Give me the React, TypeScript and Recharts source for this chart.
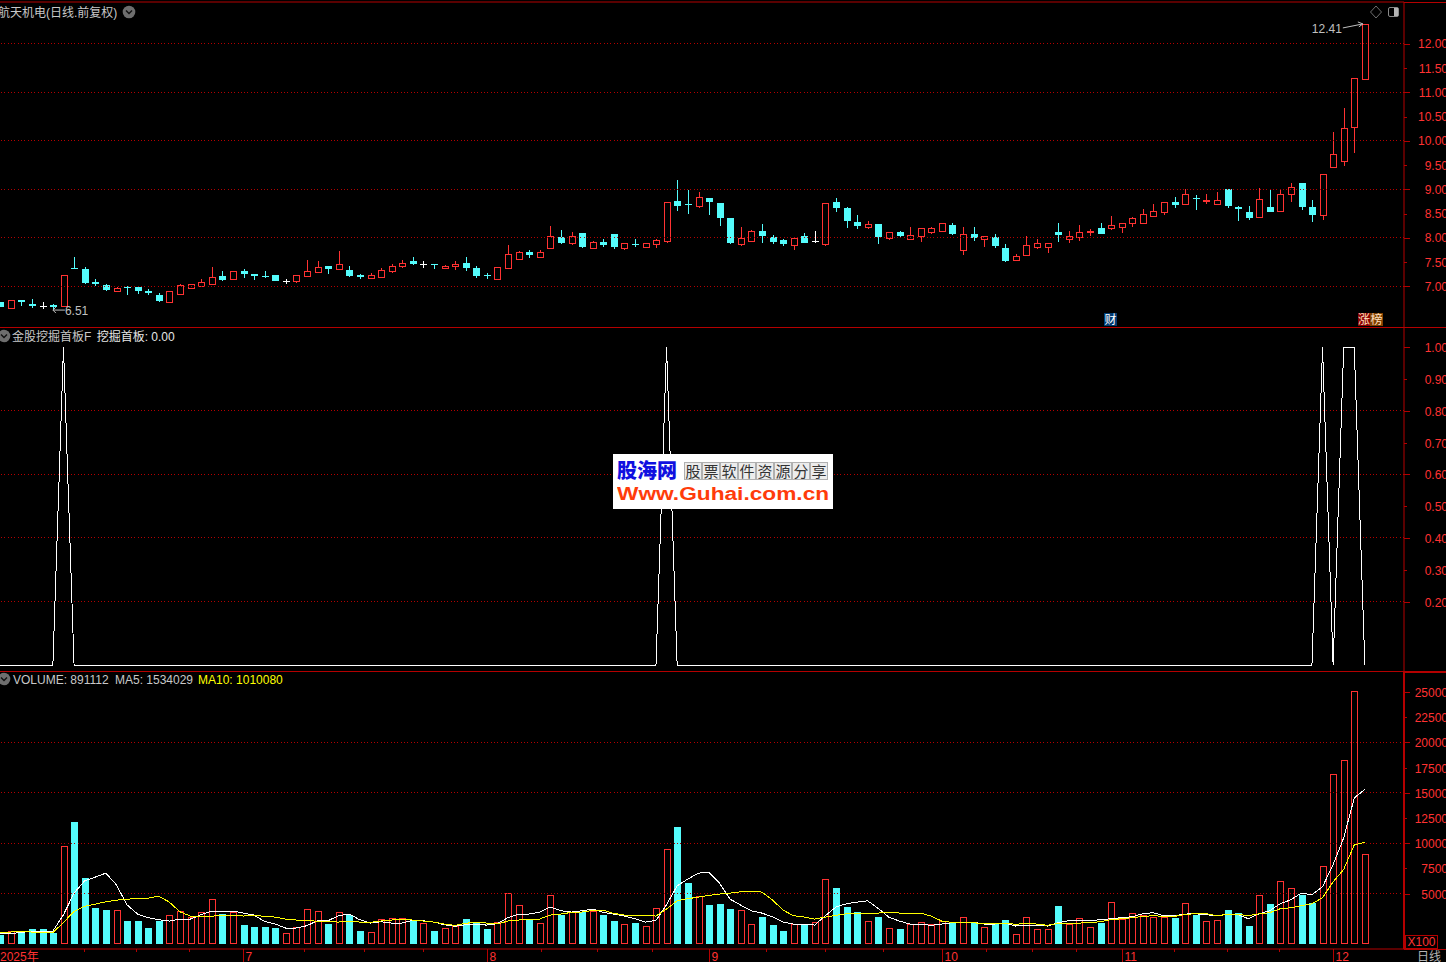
import React from "react";
import {
  Bar,
  ComposedChart,
  Line,
  ReferenceDot,
  ReferenceLine,
  XAxis,
  YAxis,
} from "recharts";

const opens = [
  6.68, 6.56, 6.72, 6.64, 6.59, 6.61, 6.6, 7.38, 7.36, 7.09,
  7.03, 6.91, 6.99, 6.99, 6.9, 6.82, 6.68, 6.84, 6.97, 7.01,
  7.05, 7.21, 7.16, 7.32, 7.25, 7.21, 7.23, 7.1, 7.1, 7.22,
  7.3, 7.42, 7.36, 7.34, 7.23, 7.18, 7.2, 7.32, 7.41, 7.52,
  7.45, 7.46, 7.38, 7.41, 7.48, 7.38, 7.23, 7.16, 7.38, 7.57,
  7.71, 7.61, 7.8, 8.02, 7.9, 8.1, 7.8, 7.91, 8.08, 7.8,
  7.87, 7.82, 7.88, 7.94, 8.76, 8.7, 8.66, 8.82, 8.72, 8.41,
  7.88, 7.94, 8.14, 8.02, 7.96, 7.86, 8.04, 7.93, 7.88, 8.74,
  8.62, 8.33, 8.22, 8.29, 8.0, 8.12, 7.98, 8.04, 8.13, 8.15,
  8.26, 7.74, 8.08, 7.97, 8.02, 7.79, 7.55, 7.65, 7.82, 7.82,
  8.12, 7.97, 8.02, 8.11, 8.2, 8.21, 8.23, 8.3, 8.31, 8.44,
  8.54, 8.74, 8.69, 8.82, 8.75, 8.69, 9.01, 8.63, 8.53, 8.42,
  8.63, 8.56, 8.9, 9.13, 8.63, 8.48, 9.45, 9.58, 10.29, 11.28,
];
const closes = [
  6.57, 6.71, 6.68, 6.59, 6.59, 6.58, 7.23, 7.36, 7.07, 7.05,
  6.92, 6.96, 6.97, 6.9, 6.86, 6.7, 6.9, 7.02, 7.04, 7.08,
  7.19, 7.13, 7.31, 7.25, 7.21, 7.19, 7.11, 7.1, 7.23, 7.31,
  7.39, 7.36, 7.45, 7.21, 7.19, 7.23, 7.33, 7.41, 7.49, 7.46,
  7.45, 7.43, 7.42, 7.47, 7.38, 7.21, 7.21, 7.39, 7.66, 7.7,
  7.65, 7.7, 8.03, 7.89, 8.03, 7.81, 7.91, 7.85, 7.81, 7.89,
  7.85, 7.89, 7.95, 8.73, 8.66, 8.68, 8.84, 8.74, 8.41, 7.89,
  8.0, 8.15, 8.04, 7.91, 7.87, 8.0, 7.89, 7.93, 8.71, 8.62,
  8.35, 8.24, 8.28, 8.02, 8.11, 8.04, 8.05, 8.2, 8.2, 8.3,
  8.08, 8.07, 8.0, 8.03, 7.83, 7.52, 7.62, 7.85, 7.89, 7.89,
  8.06, 8.03, 8.11, 8.15, 8.08, 8.26, 8.3, 8.4, 8.5, 8.55,
  8.73, 8.68, 8.9, 8.79, 8.78, 8.77, 8.66, 8.59, 8.41, 8.79,
  8.53, 8.9, 9.04, 8.63, 8.48, 9.31, 9.72, 10.26, 11.29, 12.41,
];
const highs = [
  6.68, 6.71, 6.72, 6.74, 6.68, 6.64, 7.23, 7.6, 7.4, 7.15,
  7.05, 6.99, 7.01, 7.01, 6.95, 6.86, 6.9, 7.05, 7.04, 7.15,
  7.4, 7.32, 7.31, 7.36, 7.25, 7.32, 7.23, 7.16, 7.23, 7.54,
  7.52, 7.42, 7.73, 7.42, 7.26, 7.27, 7.38, 7.46, 7.54, 7.6,
  7.52, 7.46, 7.44, 7.52, 7.6, 7.42, 7.27, 7.39, 7.85, 7.73,
  7.75, 7.75, 8.24, 8.16, 8.12, 8.1, 7.93, 7.98, 8.08, 7.89,
  7.98, 7.89, 7.98, 8.73, 9.19, 8.99, 8.95, 8.82, 8.72, 8.41,
  8.22, 8.16, 8.29, 8.06, 7.98, 8.0, 8.1, 8.14, 8.71, 8.82,
  8.64, 8.47, 8.35, 8.29, 8.11, 8.14, 8.22, 8.2, 8.22, 8.3,
  8.31, 8.22, 8.22, 8.03, 8.08, 7.87, 7.67, 8.04, 7.98, 7.89,
  8.3, 8.14, 8.26, 8.18, 8.3, 8.45, 8.3, 8.43, 8.59, 8.7,
  8.73, 8.84, 9.01, 8.88, 8.9, 8.94, 9.01, 8.66, 8.66, 9.03,
  8.98, 9.01, 9.13, 9.13, 8.78, 9.31, 10.18, 10.67, 11.29, 12.41,
];
const lows = [
  6.57, 6.56, 6.59, 6.55, 6.53, 6.51, 6.6, 7.36, 7.05, 7.01,
  6.9, 6.91, 6.82, 6.84, 6.82, 6.68, 6.68, 6.82, 6.95, 6.99,
  7.05, 7.11, 7.16, 7.17, 7.13, 7.17, 7.11, 7.05, 7.07, 7.22,
  7.27, 7.25, 7.36, 7.19, 7.15, 7.18, 7.2, 7.28, 7.38, 7.44,
  7.38, 7.36, 7.36, 7.34, 7.32, 7.17, 7.15, 7.16, 7.36, 7.57,
  7.58, 7.61, 7.8, 7.87, 7.86, 7.79, 7.77, 7.81, 7.77, 7.75,
  7.81, 7.79, 7.79, 7.89, 8.55, 8.49, 8.62, 8.47, 8.24, 7.87,
  7.83, 7.94, 7.89, 7.87, 7.83, 7.75, 7.89, 7.89, 7.83, 8.53,
  8.2, 8.18, 8.18, 7.87, 7.96, 8.0, 7.98, 7.91, 8.08, 8.15,
  8.06, 7.65, 7.93, 7.81, 7.79, 7.5, 7.55, 7.65, 7.77, 7.69,
  7.91, 7.89, 7.93, 8.04, 8.08, 8.16, 8.1, 8.22, 8.3, 8.44,
  8.47, 8.61, 8.69, 8.57, 8.7, 8.69, 8.61, 8.35, 8.37, 8.42,
  8.53, 8.56, 8.74, 8.57, 8.33, 8.37, 9.45, 9.48, 9.75, 11.28,
];
const volumes = [
  924, 1287, 1089, 1518, 1518, 1089, 9702, 12111, 6567, 3597,
  3399, 3366, 2310, 2310, 1617, 2310, 2871, 3267, 2673, 3168,
  4455, 3003, 3168, 1914, 1716, 1716, 1617, 1089, 1683, 3465,
  3267, 2013, 3168, 2871, 1320, 1188, 2475, 2574, 2574, 2310,
  2079, 1320, 1584, 1782, 2508, 2112, 1518, 2178, 5049, 3861,
  2475, 2079, 4851, 2904, 3168, 3168, 3300, 2904, 2310, 1980,
  2112, 1782, 3564, 9405, 11616, 6072, 4752, 3894, 3993, 3498,
  3366, 1980, 2706, 1914, 1320, 1980, 2013, 2178, 6435, 5577,
  3696, 3201, 2277, 2706, 1584, 1518, 2013, 2178, 1980, 2277,
  2112, 2673, 2112, 1683, 2013, 2409, 990, 2673, 1485, 1518,
  3729, 2013, 2607, 1716, 2112, 4191, 2508, 3102, 2904, 2706,
  2706, 2541, 4092, 2904, 2310, 2409, 3333, 3036, 1749, 4884,
  3927, 6270, 5577, 4818, 4026, 7755, 16863, 18249, 25080, 8911,
];
const ma5 = [
  1023, 1023, 1155, 1254, 1287, 1287, 2904, 5049, 6270, 6633,
  7029, 5874, 3894, 2970, 2607, 2409, 2277, 2475, 2475, 2904,
  3267, 3267, 3267, 3069, 2871, 2244, 1980, 1584, 1584, 1815,
  2310, 2310, 2805, 2970, 2409, 2079, 2211, 2079, 2079, 2343,
  2310, 2178, 1914, 1749, 1914, 1914, 1881, 2013, 2607, 2970,
  2970, 3168, 3663, 3300, 3168, 3300, 3465, 3135, 2970, 2772,
  2508, 2178, 2343, 3894, 5775, 6435, 7029, 7128, 6039, 4455,
  3861, 3300, 3069, 2706, 2178, 1980, 1947, 1881, 2805, 3663,
  3993, 4158, 4290, 3531, 2673, 2277, 1980, 1980, 1848, 1980,
  2112, 2178, 2178, 1980, 1980, 2079, 1782, 1881, 1881, 1782,
  2112, 2310, 2310, 2310, 2409, 2508, 2607, 2706, 3003, 3102,
  2805, 2805, 2970, 3003, 2904, 2805, 2937, 2904, 2508, 3003,
  3300, 3993, 4389, 5049, 4884, 5676, 7887, 10527, 14487, 15340,
];
const ma10 = [
  1188, 1188, 1287, 1188, 1122, 1122, 2145, 3234, 3729, 3960,
  4191, 4356, 4422, 4554, 4554, 4752, 4158, 3201, 2772, 2739,
  2772, 2805, 2871, 2772, 2871, 2739, 2673, 2475, 2376, 2376,
  2244, 2211, 2178, 2277, 2178, 2145, 2277, 2376, 2475, 2376,
  2277, 2178, 1980, 1848, 2046, 2178, 2079, 1980, 2277, 2376,
  2475, 2475, 2871, 2970, 3135, 3168, 3333, 3366, 3036, 2871,
  2871, 2871, 2772, 3465, 4290, 4488, 4653, 4818, 4950, 5049,
  5181, 5247, 5148, 4389, 3366, 2805, 2673, 2475, 2673, 2838,
  3003, 3069, 3069, 3069, 3168, 3069, 3069, 3069, 2772, 2277,
  2145, 2112, 2112, 2013, 2013, 2079, 1947, 2079, 1980, 1848,
  2046, 2079, 2079, 2112, 2211, 2409, 2508, 2607, 2739, 2805,
  2739, 2739, 2937, 3003, 3003, 2805, 2937, 2937, 2805, 3003,
  3102, 3498, 3597, 3795, 3993, 4587, 6171, 7392, 9834, 10100,
];
// 挖掘首板 signal days, 0 everywhere else
const signalDays = [6, 63, 125, 127, 128];
// white doji candles whose volume bar is still drawn red
const redDojiDays = [27, 40, 77];

const priceTicks = [12, 11.5, 11, 10.5, 10, 9.5, 9, 8.5, 8, 7.5, 7];
const priceGrid = [12, 11, 10, 9, 8, 7];
const signalTicks = [1, 0.9, 0.8, 0.7, 0.6, 0.5, 0.4, 0.3, 0.2];
const signalGrid = [0.8, 0.6, 0.4, 0.2];
const volumeTicks = [25000, 22500, 20000, 17500, 15000, 12500, 10000, 7500, 5000];
const volumeGrid = [20000, 15000, 10000, 5000];

const monthLabels: Record<number, string> = {
  0: "2025年",
  23: "7",
  46: "8",
  67: "9",
  89: "10",
  106: "11",
  126: "12",
};
const dateTicks = [
  0, 7.9, 12.9, 17.9, 23, 28.7, 34.4, 40, 46, 51.1, 56.4, 61.6, 67, 72.4, 78,
  83.5, 89, 93.2, 97.5, 101.7, 106, 111, 116, 120.9, 126,
];
// little marks on the top border, one every 3.3 days or so
const topTicks = Array.from({ length: 39 }, (_, k) => 1.7 + k * 3.308);

const RED = "#ff3232";
const CYAN = "#54fcfc";
const LINE_RED = "#b40000";
const FONT = '"Liberation Sans", "Noto Sans CJK SC", sans-serif';
const X_DOMAIN: [number, number] = [0, 132.7];

const days = opens.map((open, i) => ({
  idx: i,
  open,
  close: closes[i],
  high: highs[i],
  low: lows[i],
  range: [lows[i], highs[i]],
  volume: volumes[i],
  ma5: ma5[i],
  ma10: ma10[i],
  signal: signalDays.includes(i) ? 1 : 0,
}));

const Candle = (props: any) => {
  const { x, y, width, height, payload } = props;
  const { open, close, high, low } = payload;
  const k = height / (high - low || 1);
  const cx = Math.round(x + width / 2) + 0.5;
  const left = cx - 3.5;
  const bodyTop = Math.round(y + (high - Math.max(open, close)) * k);
  const bodyBottom = Math.round(y + (high - Math.min(open, close)) * k);
  const wick = { x1: cx, x2: cx, y1: y, y2: y + height };
  if (open === close) {
    return (
      <g shapeRendering="crispEdges" stroke="#fff">
        <line {...wick} />
        <line x1={left} x2={left + 7} y1={bodyTop + 0.5} y2={bodyTop + 0.5} />
      </g>
    );
  }
  if (close > open) {
    return (
      <g shapeRendering="crispEdges" stroke={RED}>
        <line {...wick} />
        <rect x={left} y={bodyTop + 0.5} width={6} height={bodyBottom - bodyTop} fill="#000" />
      </g>
    );
  }
  return (
    <g shapeRendering="crispEdges">
      <line {...wick} stroke={CYAN} />
      <rect x={left - 0.5} y={bodyTop} width={7} height={Math.max(bodyBottom - bodyTop, 1)} fill={CYAN} />
    </g>
  );
};

const VolumeBar = (props: any) => {
  const { x, y, width, height, payload } = props;
  const left = Math.round(x + width / 2) - 3;
  const top = Math.round(y);
  const isRed =
    payload.close > payload.open ||
    (payload.close === payload.open && redDojiDays.includes(payload.idx));
  if (isRed) {
    return (
      <rect
        x={left + 0.5}
        y={top + 0.5}
        width={6}
        height={height - 1}
        fill="#000"
        stroke={RED}
        shapeRendering="crispEdges"
      />
    );
  }
  return <rect x={left} y={top} width={7} height={height} fill={CYAN} shapeRendering="crispEdges" />;
};

// right axis tick: every other mark is long, labels run off the right edge like the original
const ValueTick = (props: any) => {
  const { x, y, index, payload, digits, dy = 5 } = props;
  const py = Math.round(y) + 0.5;
  return (
    <g>
      <line
        x1={x}
        x2={x + (index % 2 === 0 ? 6 : 3)}
        y1={py}
        y2={py}
        stroke={LINE_RED}
        shapeRendering="crispEdges"
      />
      <text x={1448} y={y + dy} textAnchor="end" fontSize={12} fontFamily={FONT} fill={RED}>
        {digits ? payload.value.toFixed(digits) : payload.value}
      </text>
    </g>
  );
};

const DateTick = (props: any) => {
  const { x, y, payload } = props;
  const label = monthLabels[payload.value];
  const px = Math.round(x) + 0.5;
  return (
    <g>
      {payload.value !== 0 && (
        <line x1={px} x2={px} y1={y} y2={label ? y + 13 : y + 3} stroke={LINE_RED} shapeRendering="crispEdges" />
      )}
      {label && (
        <text x={payload.value === 0 ? 0 : px + 2} y={y + 12} fontSize={12} fontFamily={FONT} fill={RED}>
          {label}
        </text>
      )}
    </g>
  );
};

const HighNote = (props: any) => {
  const { cx, cy } = props;
  return (
    <g>
      <text x={cx - 53} y={cy + 9} fontSize={12} fontFamily={FONT} fill="#c0c0c0">
        12.41
      </text>
      <path d={`M${cx - 22} ${cy + 4} L${cx - 2} ${cy}`} stroke="#c0c0c0" fill="none" />
      <path d={`M${cx - 7} ${cy - 2} L${cx - 2} ${cy} L${cx - 6} ${cy + 3}`} stroke="#c0c0c0" fill="none" />
    </g>
  );
};

const LowNote = (props: any) => {
  const { cx, cy } = props;
  return (
    <g>
      <path d={`M${cx} ${cy} L${cx + 12} ${cy}`} stroke="#c0c0c0" fill="none" />
      <path d={`M${cx + 3} ${cy - 3} L${cx} ${cy} L${cx + 3} ${cy + 3}`} stroke="#c0c0c0" fill="none" />
      <text x={cx + 12} y={cy + 5} fontSize={12} fontFamily={FONT} fill="#c0c0c0">
        6.51
      </text>
    </g>
  );
};

const gridLines = (values: number[]) =>
  values.map((v) => (
    <ReferenceLine
      key={v}
      y={v}
      stroke={LINE_RED}
      strokeDasharray="1 2.33"
      shapeRendering="crispEdges"
    />
  ));

const Chevron = ({ x, y }: { x: number; y: number }) => (
  <svg style={{ position: "absolute", left: x - 7, top: y - 7 }} width={14} height={14}>
    <circle cx={7} cy={7} r={6.3} fill="#6e6e6e" />
    <path d="M4 5.5 L7 8.5 L10 5.5" stroke="#111" strokeWidth={1.4} fill="none" />
  </svg>
);

const Label = ({ x, y, color = "#c8c8c8", children }: any) => (
  <div
    style={{
      position: "absolute",
      left: x,
      top: y,
      color,
      fontSize: 12,
      lineHeight: "14px",
      fontFamily: FONT,
      whiteSpace: "nowrap",
    }}
  >
    {children}
  </div>
);

const Badge = ({ x, w, bg, color, children }: any) => (
  <div
    style={{
      position: "absolute",
      left: x,
      top: 313,
      width: w,
      height: 13,
      background: bg,
      color,
      fontSize: 12,
      lineHeight: "14px",
      textAlign: "center",
      fontFamily: FONT,
    }}
  >
    {children}
  </div>
);

// right of the value axis the pane borders carry on to the window edge
const Rule = ({ y, h = 1 }: { y: number; h?: number }) => (
  <div style={{ position: "absolute", left: 1404, top: y, width: 42, height: h, background: LINE_RED }} />
);

const Watermark = () => (
  <div
    style={{
      position: "absolute",
      left: 613,
      top: 454,
      width: 220,
      height: 55,
      background: "#fff",
      fontFamily: FONT,
      overflow: "hidden",
    }}
  >
    <div
      style={{
        position: "absolute",
        left: 4,
        top: 3,
        fontSize: 20,
        lineHeight: "26px",
        fontWeight: 900,
        color: "#1010e0",
        fontFamily: '"Noto Sans CJK SC"',
      }}
    >
      股海网
    </div>
    <div
      style={{
        position: "absolute",
        left: 71,
        top: 8,
        width: 145,
        height: 18,
        display: "flex",
        fontSize: 15,
        lineHeight: "16px",
        color: "#333",
        fontFamily: '"Noto Sans CJK SC"',
      }}
    >
      {"股票软件资源分享".split("").map((c) => (
        <span
          key={c}
          style={{
            width: 18,
            textAlign: "center",
            boxSizing: "border-box",
            border: "1px solid #b0b0b0",
            background: "#ececec",
          }}
        >
          {c}
        </span>
      ))}
    </div>
    <div
      style={{
        position: "absolute",
        left: 4,
        top: 29,
        fontSize: 18,
        lineHeight: "22px",
        fontWeight: 700,
        color: "#ff3c0a",
        transform: "scaleX(1.26)",
        transformOrigin: "left",
        whiteSpace: "nowrap",
      }}
    >
      Www.Guhai.com.cn
    </div>
  </div>
);

export default function App() {
  return (
    <div
      style={{
        position: "absolute",
        left: 0,
        top: 0,
        width: 1446,
        height: 962,
        background: "#000",
        overflow: "hidden",
      }}
    >
      <div style={{ position: "absolute", left: 0, top: 0 }}>
        <ComposedChart width={1446} height={328} data={days} margin={{ top: 0, right: 0, bottom: 1, left: 0 }}>
          <XAxis
            xAxisId={0}
            dataKey="idx"
            type="number"
            orientation="top"
            domain={X_DOMAIN}
            allowDataOverflow
            height={2}
            ticks={topTicks}
            interval={0}
            stroke={LINE_RED}
            tickSize={2}
            tick={false}
          />
          <YAxis
            orientation="right"
            width={42}
            domain={[6.161, 12.862]}
            allowDataOverflow
            ticks={priceTicks}
            interval={0}
            stroke={LINE_RED}
            tickLine={false}
            tickSize={0}
            tickMargin={0}
            tick={<ValueTick digits={2} dy={4.5} />}
          />
          {gridLines(priceGrid)}
          <ReferenceLine y={6.161} stroke={LINE_RED} shapeRendering="crispEdges" />
          <Bar dataKey="range" barSize={7} shape={Candle} isAnimationActive={false} />
          <ReferenceDot x={129} y={12.41} r={0} shape={HighNote} />
          <ReferenceDot x={5} y={6.51} r={0} shape={LowNote} />
        </ComposedChart>
      </div>

      <div style={{ position: "absolute", left: 0, top: 328 }}>
        <ComposedChart width={1446} height={343} data={days} margin={{ top: 0, right: 0, bottom: 0, left: 0 }}>
          <XAxis dataKey="idx" type="number" domain={X_DOMAIN} allowDataOverflow hide />
          <YAxis
            orientation="right"
            width={42}
            domain={[-0.0186, 1.0607]}
            allowDataOverflow
            ticks={signalTicks}
            interval={0}
            stroke={LINE_RED}
            tickLine={false}
            tickSize={0}
            tickMargin={0}
            tick={<ValueTick digits={2} />}
          />
          {gridLines(signalGrid)}
          <Line
            dataKey="signal"
            type="linear"
            stroke="#fff"
            strokeWidth={1}
            shapeRendering="crispEdges"
            dot={false}
            isAnimationActive={false}
          />
        </ComposedChart>
      </div>

      <div style={{ position: "absolute", left: 0, top: 671 }}>
        <ComposedChart width={1446} height={291} data={days} margin={{ top: 0, right: 0, bottom: 0, left: 0 }}>
          <XAxis
            dataKey="idx"
            type="number"
            domain={X_DOMAIN}
            allowDataOverflow
            ticks={dateTicks}
            interval={0}
            height={13}
            stroke={LINE_RED}
            tickLine={false}
            tickSize={0}
            tickMargin={0}
            tick={<DateTick />}
          />
          <YAxis
            orientation="right"
            width={42}
            domain={[-495, 27080]}
            allowDataOverflow
            ticks={volumeTicks}
            interval={0}
            axisLine={{ stroke: LINE_RED, strokeWidth: 2 }}
            tickLine={false}
            tickSize={0}
            tickMargin={0}
            tick={<ValueTick />}
          />
          {gridLines(volumeGrid)}
          <ReferenceLine y={27080} stroke={LINE_RED} shapeRendering="crispEdges" />
          <Bar dataKey="volume" barSize={7} shape={VolumeBar} isAnimationActive={false} />
          <Line
            dataKey="ma5"
            type="linear"
            stroke="#fff"
            shapeRendering="crispEdges"
            dot={false}
            isAnimationActive={false}
          />
          <Line
            dataKey="ma10"
            type="linear"
            stroke="#ffff00"
            shapeRendering="crispEdges"
            dot={false}
            isAnimationActive={false}
          />
        </ComposedChart>
      </div>

      <Rule y={2} />
      <Rule y={327} />
      <Rule y={671} h={2} />
      <Rule y={949} />

      <Label x={-2} y={6}>航天机电(日线.前复权)</Label>
      <Chevron x={129} y={12} />
      <Chevron x={4} y={336} />
      <Label x={12} y={330}>
        金股挖掘首板F <span style={{ marginLeft: 2, color: "#e6e6e6" }}>挖掘首板: 0.00</span>
      </Label>
      <Chevron x={4} y={679} />
      <Label x={13} y={673}>
        VOLUME: 891112 <span style={{ marginLeft: 3 }}>MA5: 1534029</span>
        <span style={{ marginLeft: 5, color: "#ffff00" }}>MA10: 1010080</span>
      </Label>

      <svg style={{ position: "absolute", left: 1368, top: 5 }} width={34} height={14}>
        <path d="M8 1 L13.5 7 L8 13 L2.5 7 Z" stroke="#6e6e6e" fill="none" />
        <rect x={20.5} y={2.5} width={10} height={9} rx={1.5} stroke="#8a8a8a" fill="none" />
        <rect x={26} y={3} width={4} height={8} fill="#b4b4b4" />
      </svg>

      <Badge x={1104} w={13} bg="#003a70" color="#fff">财</Badge>
      <Badge x={1358} w={12} bg="#8a0000" color="#ffe0c0">涨</Badge>
      <Badge x={1370} w={13} bg="#804000" color="#ffe0c0">榜</Badge>

      <div
        style={{
          position: "absolute",
          left: 1405,
          top: 935,
          width: 31,
          height: 12,
          border: `1px solid ${LINE_RED}`,
          color: RED,
          fontSize: 12,
          lineHeight: "12px",
          textAlign: "center",
          fontFamily: FONT,
        }}
      >
        X100
      </div>
      <Label x={1417} y={950} color="#b4b4b4">日线</Label>

      <Watermark />
    </div>
  );
}
